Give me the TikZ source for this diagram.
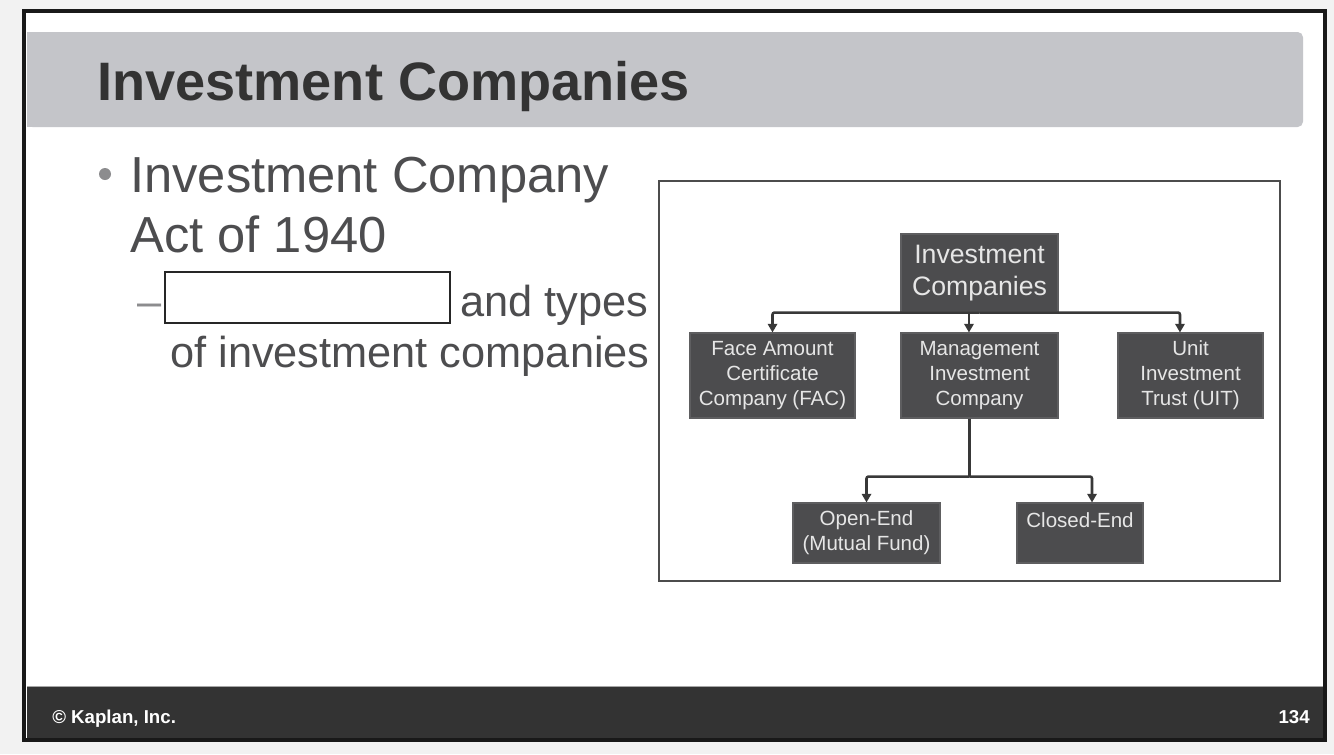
\documentclass[tikz,border=0pt]{standalone}
\usepackage{fontspec}
\setmainfont{Liberation Sans}
\usetikzlibrary{arrows.meta}
\definecolor{pagebg}{HTML}{F2F2F2}
\definecolor{bandgray}{HTML}{C4C5C9}
\definecolor{titleink}{HTML}{333333}
\definecolor{bodyink}{HTML}{4D4D4F}
\definecolor{dotgray}{HTML}{8C8C8E}
\definecolor{boxfill}{HTML}{4C4C4E}
\definecolor{boxedge}{HTML}{5E5E60}
\definecolor{boxink}{HTML}{E6E6E6}
\definecolor{linkink}{HTML}{383838}
\definecolor{footfill}{HTML}{333333}

\begin{document}
\begin{tikzpicture}[x=0.75pt,y=-0.75pt,
  orgbox/.style={draw=boxedge, line width=0.8pt, fill=boxfill, text=boxink, align=center,
    inner sep=0pt, font=\fontsize{15.4}{18.75}\selectfont, minimum height=63.75pt},
  link/.style={draw=linkink, line width=1.9pt, rounded corners=1.5pt,
    -{Triangle[length=6.5pt,width=7pt]}},
  bodytext/.style={anchor=base west, inner sep=0pt, text=bodyink}]
\useasboundingbox (0,0) rectangle (1334,754);
\fill[pagebg] (0,0) rectangle (1334,754);
% slide
\fill[white] (24,11) rectangle (1325,740);
\fill[bandgray, rounded corners=4pt] (27,32) rectangle (1303,127);
\fill[bandgray] (27,32) rectangle (1200,127);
\node[anchor=base west, inner sep=0pt, text=titleink, font=\fontsize{40.6}{48}\selectfont\bfseries] (title) at (97,100) {Investment Companies};
\fill[footfill] (27,686) rectangle (1323,740);
\draw[gray!70, line width=0.6pt] (27,686) -- (1323,686);
\node[anchor=base west, inner sep=0pt, text=white, font=\fontsize{14}{16}\selectfont\bfseries] (copy) at (52,723) {© Kaplan, Inc.};
\node[anchor=base east, inner sep=0pt, text=white, font=\fontsize{14}{16}\selectfont\bfseries] (pageno) at (1310,723) {134};
\draw[black!90, line width=3pt] (24,11) rectangle (1325,740);
% bullets
\fill[dotgray] (105,174) circle (4.5pt);
\node[bodytext, font=\fontsize{38}{46}\selectfont] (act1) at (130,192) {Investment Company};
\node[bodytext, font=\fontsize{38}{46}\selectfont] (act2) at (130,252) {Act of 1940};
\node[bodytext, text=dotgray, font=\fontsize{32.5}{39}\selectfont] (dash) at (137,316) {–};
\draw[black!85, line width=0.8pt] (165,272) rectangle (450,323);
\node[bodytext, font=\fontsize{32.5}{39}\selectfont] (types1) at (460,316) {and types};
\node[bodytext, font=\fontsize{32.5}{39}\selectfont] (types2) at (170,367) {of investment companies};
% chart
\draw[black!70, line width=1.6pt] (659,181) rectangle (1280,581);
\node[orgbox, minimum width=117.75pt, minimum height=58.5pt, font=\fontsize{20}{24}\selectfont] (top) at (979.5,273) {Investment\\Companies};
\node[orgbox, minimum width=123.75pt] (fac) at (772.5,375.5) {Face Amount\\Certificate\\Company (FAC)};
\node[orgbox, minimum width=117.75pt] (mic) at (979.5,375.5) {Management\\Investment\\Company};
\node[orgbox, minimum width=108.75pt] (uit) at (1190.5,375.5) {Unit\\Investment\\Trust (UIT)};
\node[orgbox, minimum width=110.25pt, minimum height=45pt] (open) at (866.5,533) {Open-End\\(Mutual Fund)};
\node[orgbox, minimum width=94.5pt, minimum height=45pt] (closed) at (1080,533) {Closed-End\\\mbox{}};
\draw[link] (top.south) -| (fac.north);
\draw[link] ([xshift=-7.9pt]top.south) -- ([xshift=-7.9pt]mic.north);
\draw[link] (top.south) -| ([xshift=-7.9pt]uit.north);
\draw[draw=linkink, line width=1.9pt] ([xshift=-7.5pt]mic.south) -- ++(0,58) coordinate (split);
\draw[link] (split) -| (open.north);
\draw[link] (split) -| ([xshift=9pt]closed.north);
\end{tikzpicture}
\end{document}
